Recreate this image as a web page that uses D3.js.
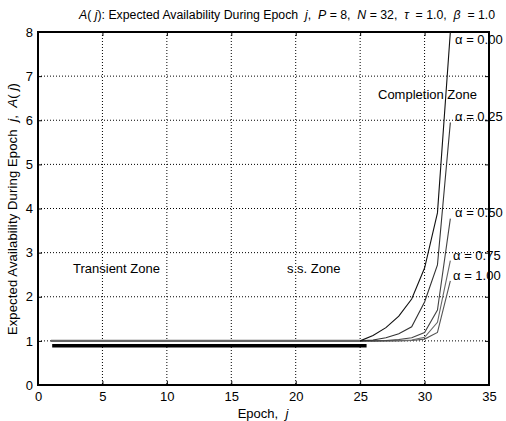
<!DOCTYPE html>
<html><head><meta charset="utf-8">
<script src="https://cdn.jsdelivr.net/npm/d3@7"></script>
<style>body{margin:0;background:#fff}svg{display:block;font-family:"Liberation Sans",Arial,sans-serif}</style>
</head><body><div id="c"></div>
<script>
const epochs = [25,26,27,28,29,30,31,32];
const flatEpochs = [1,25];
const alphas = ["0.00","0.25","0.50","0.75","1.00"];
const a000 = [1,1.12,1.30,1.56,1.95,2.65,3.9,8.0];
const a025 = [1,1.02,1.07,1.16,1.32,1.88,2.72,5.95];
const a050 = [1,1.00,1.01,1.03,1.07,1.19,1.70,3.77];
const a075 = [1,1.00,1.00,1.01,1.02,1.08,1.42,2.82];
const a100 = [1,1.00,1.00,1.00,1.01,1.04,1.19,2.36];
const flatValue = 1;
const ssBar = {x0:1.1, x1:25.5, y:0.89};
const xTicks = [0,5,10,15,20,25,30,35];
const yTicks = [0,1,2,3,4,5,6,7,8];
const seriesColors = ["#111","#333","#444","#666","#555"];

const W=506,H=421, L=38,R=489,T=32,B=385;
const FS=13;
const svg=d3.select("#c").append("svg").attr("width",W).attr("height",H);
const x=d3.scaleLinear().domain([0,35]).range([L,R]);
const y=d3.scaleLinear().domain([0,8]).range([B,T]);

// grid
const g=svg.append("g");
xTicks.slice(1,-1).forEach(t=>g.append("line").attr("x1",x(t)).attr("x2",x(t)).attr("y1",T).attr("y2",B)
  .attr("stroke","#000").attr("stroke-width",1).attr("stroke-dasharray","1,2"));
yTicks.slice(1,-1).forEach(t=>g.append("line").attr("x1",L).attr("x2",R).attr("y1",y(t)).attr("y2",y(t))
  .attr("stroke","#000").attr("stroke-width",1).attr("stroke-dasharray","1,2"));

// axes
const fnt="Liberation Sans, Arial, sans-serif";
const xa=svg.append("g").attr("transform",`translate(0,${B})`).call(d3.axisBottom(x).tickValues(xTicks).tickSize(-4).tickPadding(7));
const ya=svg.append("g").attr("transform",`translate(${L},0)`).call(d3.axisLeft(y).tickValues(yTicks).tickSize(-4).tickPadding(5));
const xt=svg.append("g").attr("transform",`translate(0,${T})`).call(d3.axisTop(x).tickValues(xTicks).tickSize(-4).tickFormat(""));
const yr=svg.append("g").attr("transform",`translate(${R},0)`).call(d3.axisRight(y).tickValues(yTicks).tickSize(-4).tickFormat(""));
[xa,ya,xt,yr].forEach(a=>{a.select(".domain").remove();a.selectAll("text").attr("font-size",FS).attr("font-family",fnt).attr("fill","#000");});
svg.append("rect").attr("x",L).attr("y",T).attr("width",R-L).attr("height",B-T).attr("fill","none").attr("stroke","#000").attr("stroke-width",2);

svg.append("clipPath").attr("id","cp").append("rect").attr("x",L).attr("y",T).attr("width",R-L).attr("height",B-T);

// flat segment
svg.append("line").attr("x1",x(flatEpochs[0])).attr("x2",x(flatEpochs[1])).attr("y1",y(flatValue)).attr("y2",y(flatValue))
  .attr("stroke","#666").attr("stroke-width",2.2);
// steady-state bar
svg.append("line").attr("x1",x(ssBar.x0)).attr("x2",x(ssBar.x1)).attr("y1",y(ssBar.y)).attr("y2",y(ssBar.y))
  .attr("stroke","#000").attr("stroke-width",3.5);

const series=[a000,a025,a050,a075,a100];
const line=d3.line().x((d,i)=>x(epochs[i])).y(d=>y(d));
const cg=svg.append("g").attr("clip-path","url(#cp)");
series.slice().reverse().forEach((s,ri)=>{const i=series.length-1-ri;
  cg.append("path").attr("d",line(s)).attr("fill","none").attr("stroke",seriesColors[i]).attr("stroke-width",1.1);});

// labels
function txt(xp,yp,parts,opt={}){
  const t=svg.append("text").attr("x",xp).attr("y",yp).attr("font-size",opt.size||FS).attr("font-family",fnt).attr("fill","#000")
    .style("white-space","pre");
  if(opt.anchor)t.attr("text-anchor",opt.anchor);
  if(opt.ls)t.attr("letter-spacing",opt.ls);
  if(opt.rot)t.attr("transform",`rotate(${opt.rot},${xp},${yp})`);
  parts.forEach(p=>{const s=t.append("tspan").text(typeof p==="string"?p:p.t);
    if(p.i)s.attr("font-style","italic");});
  return t;
}
txt(79,19,[{t:"A",i:1},"( ",{t:"j",i:1},"): Expected Availability During Epoch  ",{t:"j",i:1},",  ",{t:"P",i:1}," = 8,  ",{t:"N",i:1}," = 32,  ",{t:"τ",i:1},"  = 1.0,  ",{t:"β",i:1},"  = 1.0"],{size:12.3});
txt(263,418,["Epoch,  ",{t:"j",i:1}],{anchor:"middle"});
txt(17,209,["Expected Availability During Epoch  ",{t:"j",i:1},",  ",{t:"A",i:1},"( ",{t:"j",i:1},")"],{anchor:"middle",rot:-90,size:13,ls:0.15});
const alphaPos=[[455,44],[455,121],[455,217],[453,260],[453,280]];
alphas.forEach((a,i)=>txt(alphaPos[i][0],alphaPos[i][1],["α = "+a]));
txt(378,99,["Completion Zone"]);
txt(73,273,["Transient Zone"]);
txt(287,273,["s.s. Zone"]);
</script></body></html>
